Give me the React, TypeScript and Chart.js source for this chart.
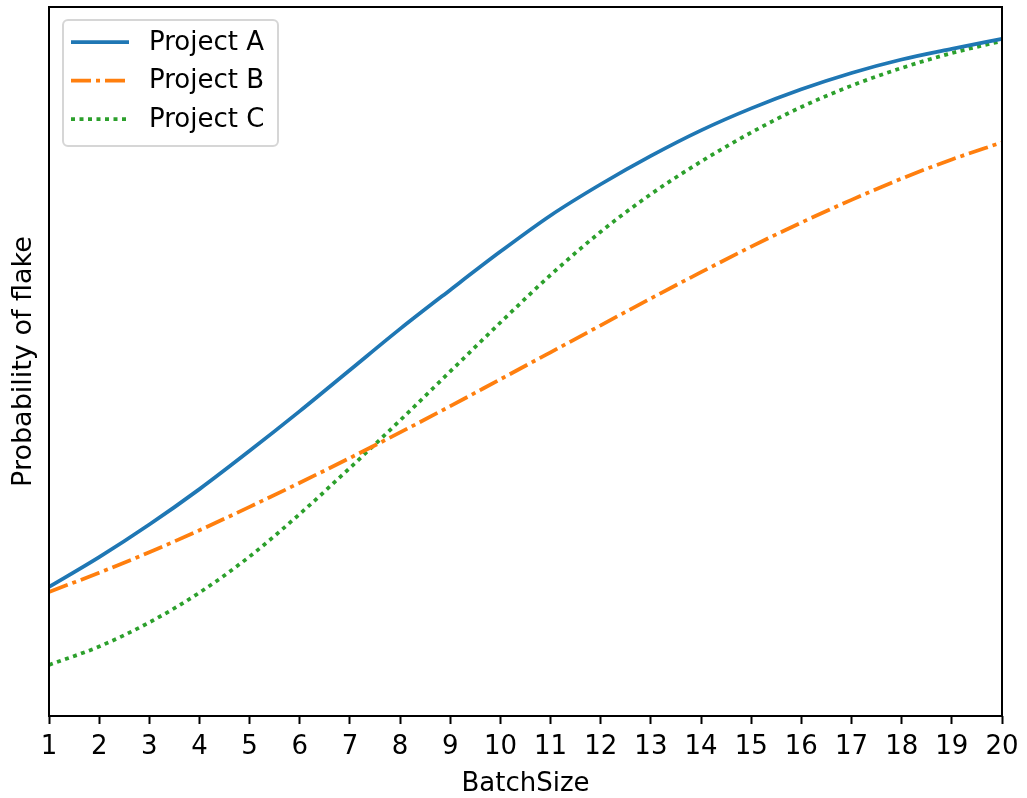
import React, { useEffect, useRef } from "react";
import { Chart, registerables } from "chart.js";

Chart.register(...registerables);

const batchSizes = ["1","2","3","4","5","6","7","8","9","10","11","12","13","14","15","16","17","18","19","20"];
const projectA = [18.2, 22.4, 27.0, 32.0, 37.4, 43.0, 48.8, 54.6, 60.1, 65.5, 70.6, 75.0, 79.0, 82.6, 85.7, 88.4, 90.7, 92.6, 94.1, 95.5];
const projectB = [17.5, 20.2, 23.1, 26.2, 29.5, 32.9, 36.4, 40.0, 43.7, 47.5, 51.3, 55.1, 58.9, 62.6, 66.2, 69.6, 72.8, 75.8, 78.5, 80.9];
const projectC = [7.2, 9.8, 13.2, 17.4, 22.5, 28.5, 35.0, 41.7, 48.6, 55.5, 62.2, 68.3, 73.6, 78.2, 82.3, 85.9, 88.9, 91.4, 93.5, 95.2];
const seriesLabels = ["Project A", "Project B", "Project C"];
const seriesColors = ["#1f77b4", "#ff7f0e", "#2ca02c"];
const seriesDashes = [[], [20, 5, 4, 5], [4, 4.5]];

const FONT = "'DejaVu Sans', sans-serif";
const FS = 26;

const framePlugin = {
  id: "frameAndLegend",
  afterDraw(chart: any) {
    const { ctx, chartArea } = chart;
    ctx.save();
    ctx.strokeStyle = "#000";
    ctx.lineWidth = 2;
    ctx.setLineDash([]);
    ctx.strokeRect(chartArea.left, chartArea.top, chartArea.right - chartArea.left, chartArea.bottom - chartArea.top);

    // legend
    const lx = chartArea.left + 14;
    const ly = chartArea.top + 13;
    const lw = 215;
    const lh = 126;
    ctx.beginPath();
    ctx.roundRect(lx, ly, lw, lh, 5);
    ctx.fillStyle = "rgba(255,255,255,0.8)";
    ctx.fill();
    ctx.strokeStyle = "rgba(204,204,204,0.8)";
    ctx.lineWidth = 2;
    ctx.stroke();

    chart.data.datasets.forEach((ds: any, i: number) => {
      const y = ly + 22 + i * 38.5;
      ctx.beginPath();
      ctx.strokeStyle = ds.borderColor;
      ctx.lineWidth = ds.borderWidth;
      ctx.setLineDash(ds.borderDash || []);
      ctx.lineCap = "butt";
      ctx.moveTo(lx + 8, y);
      ctx.lineTo(lx + 66, y);
      ctx.stroke();
      ctx.setLineDash([]);
      ctx.fillStyle = "#000";
      ctx.font = `${FS}px ${FONT}`;
      ctx.textBaseline = "middle";
      ctx.textAlign = "left";
      ctx.fillText(ds.label, lx + 86, y + 1);
    });
    ctx.restore();
  },
};

export default function App() {
  const ref = useRef<HTMLCanvasElement>(null);
  useEffect(() => {
    if (!ref.current) return;
    const seriesData = [projectA, projectB, projectC];
    const chart = new Chart(ref.current, {
      type: "line",
      data: {
        labels: batchSizes,
        datasets: seriesData.map((d, i) => ({
          label: seriesLabels[i],
          data: d,
          borderColor: seriesColors[i],
          backgroundColor: seriesColors[i],
          borderWidth: 3.75,
          borderDash: seriesDashes[i],
          borderCapStyle: "butt" as const,
          pointRadius: 0,
          cubicInterpolationMode: "monotone" as const,
          fill: false,
        })),
      },
      options: {
        responsive: false,
        animation: false,
        layout: { padding: { left: 0, right: 25, top: 7, bottom: 0 } },
        plugins: { legend: { display: false }, tooltip: { enabled: false } },
        scales: {
          x: {
            type: "category",
            offset: false,
            grid: {
              display: true,
              drawOnChartArea: false,
              drawTicks: true,
              tickLength: 8,
              tickColor: "#000",
              tickWidth: 2,
            },
            border: { display: false },
            ticks: {
              color: "#000",
              font: { family: FONT, size: FS },
              padding: 8,
              maxRotation: 0,
              autoSkip: false,
            },
            title: {
              display: true,
              text: "BatchSize",
              color: "#000",
              font: { family: FONT, size: FS },
              padding: { top: 0, bottom: -2 },
            },
            afterFit(scale: any) {
              scale.height = 82;
            },
          },
          y: {
            min: 0,
            max: 100,
            grid: { display: false },
            border: { display: false },
            ticks: { display: false },
            title: {
              display: true,
              text: "Probability of flake",
              color: "#000",
              font: { family: FONT, size: 27 },
              padding: { top: 8, bottom: 0 },
            },
            afterFit(scale: any) {
              scale.width = 49;
            },
          },
        },
      },
      plugins: [framePlugin],
    });
    return () => chart.destroy();
  }, []);
  return (
    <div style={{ position: "absolute", left: 0, top: 0, width: 1027, height: 798, background: "#fff" }}>
      <canvas ref={ref} width={1027} height={798} style={{ display: "block" }} />
    </div>
  );
}
